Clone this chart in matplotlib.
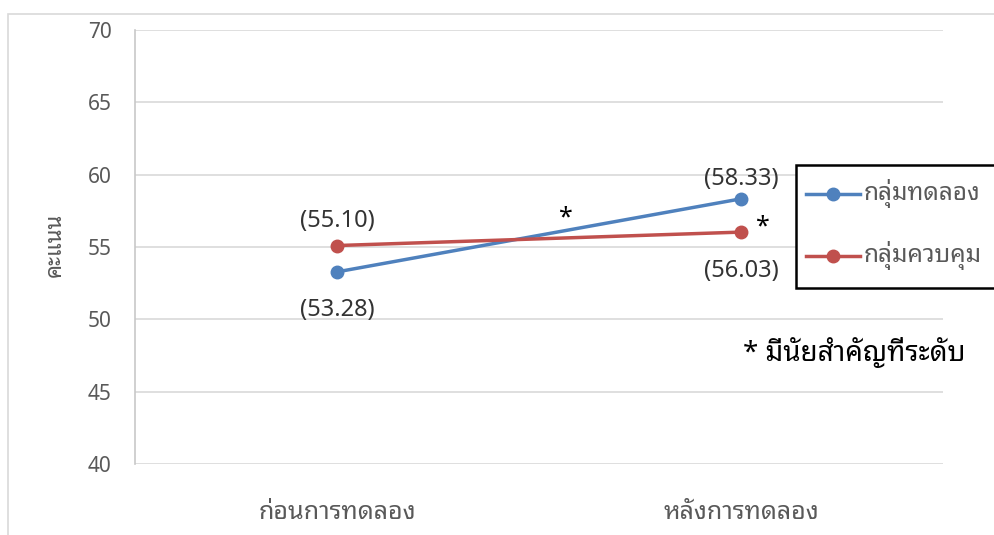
import matplotlib
matplotlib.use("Agg")
import matplotlib.pyplot as plt
from matplotlib import font_manager as fm
from matplotlib.patches import Rectangle
from matplotlib.lines import Line2D

# ---- data ----
categories = ["ก่อนการทดลอง", "หลังการทดลอง"]
experimental = [53.28, 58.33]
control = [55.10, 56.03]
series_names = ["กลุ่มทดลอง", "กลุ่มควบคุม"]
y_ticks = [40, 45, 50, 55, 60, 65, 70]
y_label = "คะแนน"
note_text = "* มีนัยสำคัญที่ระดับ"

# ---- find a font with Thai glyphs ----
thai_family = None
try:
    from fontTools.ttLib import TTFont
    found = []
    for f in fm.fontManager.ttflist:
        try:
            tt = TTFont(f.fname, fontNumber=0, lazy=True)
            cmap = tt.getBestCmap()
            if cmap and ord("ก") in cmap and ord("ู") in cmap:
                found.append(f.name)
        except Exception:
            pass
    pref = [n for n in found if "Noto" in n] + found
    if pref:
        thai_family = pref[0]
except Exception:
    pass
families = ([thai_family] if thai_family else []) + ["DejaVu Sans"]
plt.rcParams["font.family"] = families

blue = "#4f81bd"
red = "#c0504d"
gray_text = "#595959"
lab_col = "#333333"

fig = plt.figure(figsize=(9.95, 5.35), dpi=100)
W, H = 995, 535
ax = fig.add_axes([135 / W, 1 - 464 / H, (943 - 135) / W, (464 - 30) / H])

x = list(range(len(categories)))
ax.plot(x, experimental, color=blue, lw=2.5, marker="o", ms=9, zorder=3)
ax.plot(x, control, color=red, lw=2.5, marker="o", ms=9, zorder=3)

ax.set_xlim(-0.5, 1.5)
ax.set_ylim(40, 70)
ax.set_yticks(y_ticks)
ax.set_xticks(x)
ax.set_xticklabels(categories, fontsize=18, color=gray_text)
ax.tick_params(axis="x", length=0, pad=26)
ax.tick_params(axis="y", length=0, pad=17, labelsize=15, labelcolor=gray_text)
ax.grid(axis="y", color="#d9d9d9", lw=1.2)
ax.set_axisbelow(True)
for s in ["top", "right", "bottom"]:
    ax.spines[s].set_visible(False)
ax.spines["left"].set_color("#c8c8c8")
ax.spines["left"].set_linewidth(1.2)

fig.text(55 / W, 1 - 245 / H, y_label, fontsize=16, color=gray_text, rotation=90,
         ha="center", va="center")

def lab(xv, yv, txt, dy):
    ax.annotate(txt, (xv, yv), xytext=(0, dy), textcoords="offset pixels",
                ha="center", va="center", fontsize=17, color=lab_col)

lab(x[0], control[0], f"({control[0]:.2f})", 25)
lab(x[0], experimental[0], f"({experimental[0]:.2f})", -38)
lab(x[1], experimental[1], f"({experimental[1]:.2f})", 20)
lab(x[1], control[1], f"({control[1]:.2f})", -39)

ax.annotate("*", (0.5, (experimental[0] + experimental[1]) / 2), xytext=(27, 17), textcoords="offset pixels",
            ha="center", va="center", fontsize=18, color="black")
ax.annotate("*", (x[1], control[1]), xytext=(22, 5), textcoords="offset pixels",
            ha="center", va="center", fontsize=18, color="black")

fig.text(743 / W, 1 - 352 / H, note_text, fontsize=20, color="black", ha="left", va="center")

# chart border
fig.patches.append(Rectangle((8 / W, -0.01), 1.1, 1 - 14 / H + 0.01, transform=fig.transFigure,
                             fill=False, ec="#d9d9d9", lw=1.2))

# legend box
fig.patches.append(Rectangle((796 / W, 1 - 288 / H), 0.3, (288 - 165) / H, transform=fig.transFigure,
                             fill=True, fc="white", ec="black", lw=1.8, zorder=5))
for i, (name, col) in enumerate(zip(series_names, [blue, red])):
    yy = 1 - (194 + i * 62) / H
    fig.lines.append(Line2D([806 / W, 860 / W], [yy, yy], transform=fig.transFigure, color=col, lw=2.5,
                            zorder=6))
    fig.lines.append(Line2D([833 / W], [yy], transform=fig.transFigure, color=col, marker="o", ms=9,
                            zorder=7))
    fig.text(864 / W, yy, name, fontsize=17.5, color=gray_text, ha="left", va="center", zorder=8)

fig.savefig("out.png", dpi=100)
